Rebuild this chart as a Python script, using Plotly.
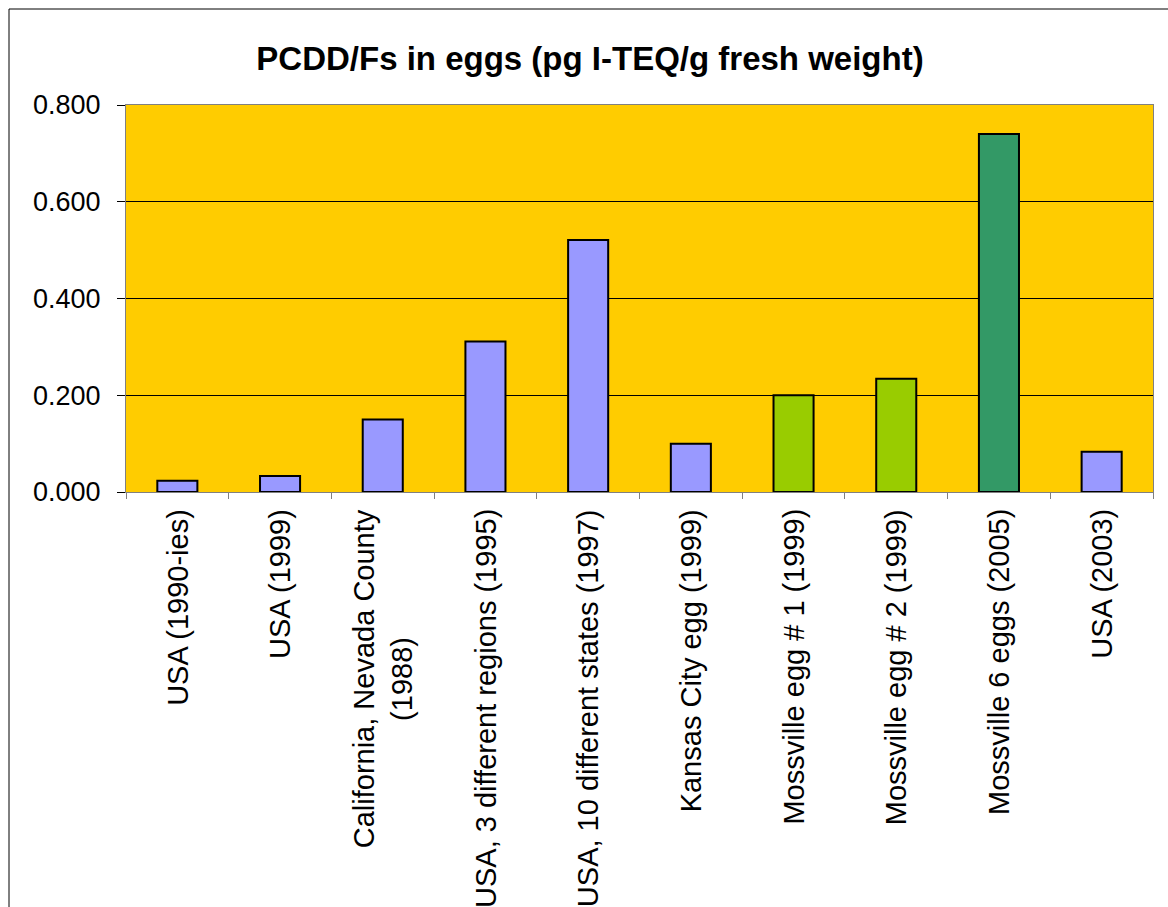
import plotly.graph_objects as go

# PCDD/F levels measured in eggs (pg I-TEQ per g fresh weight)
categories = [
    "USA (1990-ies)",
    "USA (1999)",
    "California, Nevada County<br>(1988)",
    "USA, 3 different regions (1995)",
    "USA, 10 different states (1997)",
    "Kansas City egg (1999)",
    "Mossville egg # 1 (1999)",
    "Mossville egg # 2 (1999)",
    "Mossville 6 eggs (2005)",
    "USA (2003)",
]
values = [0.023, 0.033, 0.150, 0.311, 0.521, 0.100, 0.200, 0.234, 0.740, 0.083]
bar_colors = [
    "#9999FF", "#9999FF", "#9999FF", "#9999FF", "#9999FF",
    "#9999FF", "#99CC00", "#99CC00", "#339966", "#9999FF",
]
y_ticks = [0.0, 0.2, 0.4, 0.6, 0.8]

W, H = 1168, 907
L, R, T, B = 126, 15, 105, 415
pw, ph = W - L - R, H - T - B

font_family = "Liberation Sans, Arial, sans-serif"

fig = go.Figure(
    go.Bar(
        x=categories,
        y=values,
        marker=dict(color=bar_colors, line=dict(color="#000000", width=2)),
        width=0.39,
        showlegend=False,
    )
)

fig.update_layout(
    width=W,
    height=H,
    margin=dict(l=L, r=R, t=T, b=B, pad=0),
    paper_bgcolor="#FFFFFF",
    plot_bgcolor="#FFCC00",
    font=dict(family=font_family, color="#000000"),
    title=dict(
        text="<b>PCDD/Fs in eggs (pg I-TEQ/g fresh weight)</b>",
        font=dict(family=font_family, size=33, color="#000000"),
        x=590 / W,
        xanchor="center",
        xref="container",
        y=1 - 58.5 / H,
        yanchor="middle",
        yref="container",
    ),
)

fig.update_yaxes(
    range=[0, 0.8],
    tickvals=y_ticks,
    tickformat=".3f",
    tickfont=dict(size=27, family=font_family),
    ticks="outside",
    ticklen=8,
    tickcolor="#000000",
    ticklabelstandoff=11,
    showgrid=True,
    gridcolor="#000000",
    gridwidth=1,
    showline=True,
    linecolor="#808080",
    linewidth=1,
    mirror=True,
    zeroline=False,
    fixedrange=True,
)

# category labels are written below the axis as rotated, centre-aligned text
fig.update_xaxes(
    type="category",
    tickson="boundaries",
    ticks="outside",
    ticklen=6,
    tickcolor="#808080",
    showticklabels=False,
    showline=True,
    linecolor="#808080",
    linewidth=1,
    mirror=True,
    showgrid=False,
    fixedrange=True,
)

label_top = -(508 - (H - B)) / ph
for cat in categories:
    fig.add_annotation(
        x=cat,
        xref="x",
        y=label_top,
        yref="paper",
        text=cat,
        textangle=-90,
        xanchor="center",
        yanchor="top",
        align="center",
        showarrow=False,
        borderpad=0,
        font=dict(size=29, family=font_family, color="#000000"),
    )

# outer chart border
fig.add_shape(
    type="rect",
    xref="paper",
    yref="paper",
    x0=(9 - L) / pw,
    x1=(W + 40 - L) / pw,
    y0=-(H + 40 - (H - B)) / ph,
    y1=((H - B) - 9) / ph,
    line=dict(color="#000000", width=1),
    fillcolor="rgba(0,0,0,0)",
    layer="below",
)

fig.write_html("out.html")
